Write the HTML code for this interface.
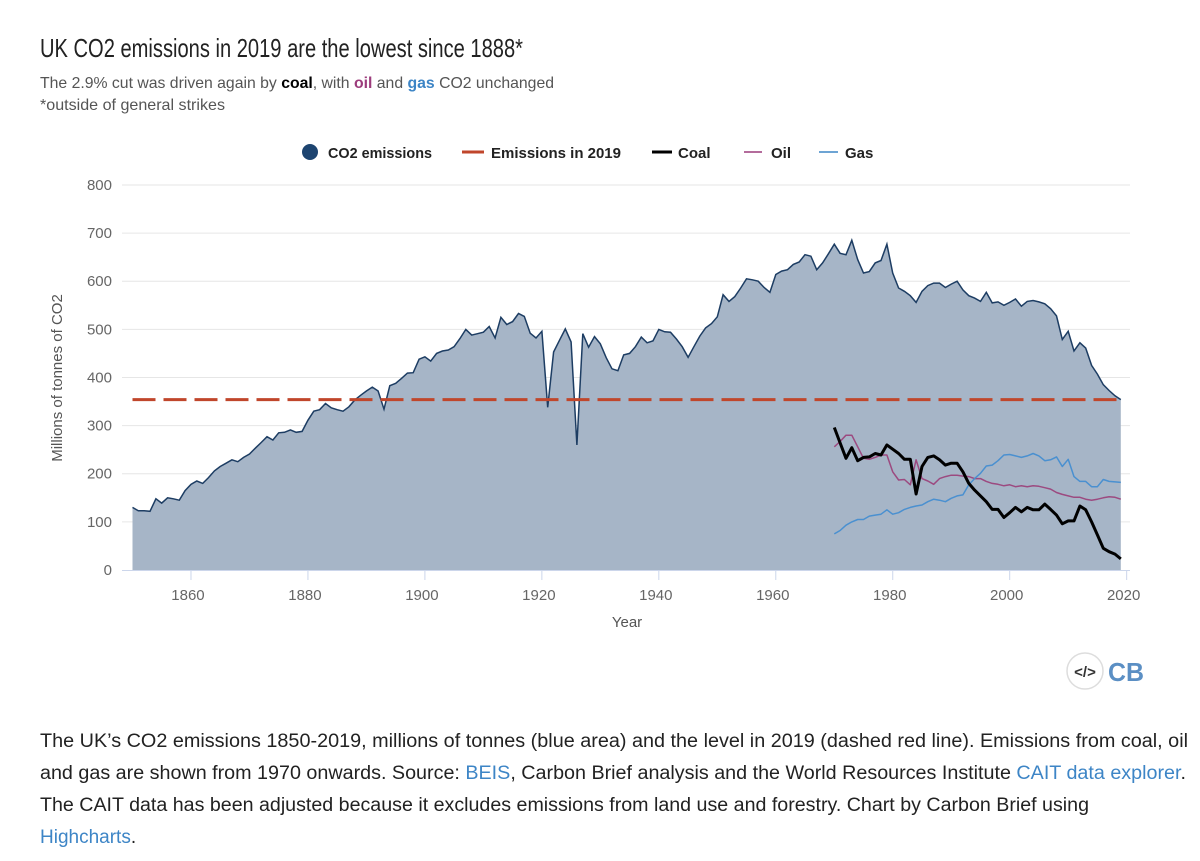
<!DOCTYPE html>
<html><head><meta charset="utf-8"><style>
html,body{margin:0;padding:0;background:#fff;}
svg{display:block;font-family:"Liberation Sans",sans-serif;}
</style></head><body>
<svg id="chart" width="1200" height="861" viewBox="0 0 1200 861" xmlns="http://www.w3.org/2000/svg">
<text x="40" y="57" font-size="26" fill="#222" textLength="483" lengthAdjust="spacingAndGlyphs">UK CO2 emissions in 2019 are the lowest since 1888*</text>
<text x="40" y="88" font-size="16" fill="#555" textLength="514" lengthAdjust="spacingAndGlyphs">The 2.9% cut was driven again by <tspan font-weight="bold" fill="#000">coal</tspan>, with <tspan font-weight="bold" fill="#9c3c7c">oil</tspan> and <tspan font-weight="bold" fill="#3d85c6">gas</tspan> CO2 unchanged</text>
<text x="40" y="110" font-size="16" fill="#555" textLength="185" lengthAdjust="spacingAndGlyphs">*outside of general strikes</text>

<g font-size="15" font-weight="bold" fill="#222">
 <g><circle cx="310" cy="152" r="8" fill="#1d4470"/><text x="328" y="158" textLength="104" lengthAdjust="spacingAndGlyphs">CO2 emissions</text></g>
 <g><line x1="462" y1="152" x2="484" y2="152" stroke="#c0462b" stroke-width="3"/><text x="491" y="158" textLength="130" lengthAdjust="spacingAndGlyphs">Emissions in 2019</text></g>
 <g><line x1="652" y1="152" x2="672" y2="152" stroke="#000" stroke-width="3"/><text x="678" y="158">Coal</text></g>
 <g><line x1="744" y1="152" x2="762" y2="152" stroke="#9c3c7c" stroke-width="1.5"/><text x="771" y="158">Oil</text></g>
 <g><line x1="819" y1="152" x2="838" y2="152" stroke="#3d85c6" stroke-width="1.5"/><text x="845" y="158">Gas</text></g>
</g>
<g id="grid"></g>
<g id="plot"></g>
<g id="axes"></g>
<text transform="translate(62,378) rotate(-90)" text-anchor="middle" font-size="15" fill="#555">Millions of tonnes of CO2</text>
<text x="627" y="627" text-anchor="middle" font-size="15" fill="#555">Year</text>

<g>
 <circle cx="1085" cy="671" r="18" fill="#fff" stroke="#ddd" stroke-width="1.5"/>
 <text x="1085" y="677" text-anchor="middle" font-size="15" font-weight="bold" fill="#333">&lt;/&gt;</text>
 <text x="1108" y="681" font-size="26" font-weight="bold" fill="#5b8fc4" textLength="36" lengthAdjust="spacingAndGlyphs">CB</text>
</g>

<g font-size="19" fill="#222">
 <text x="40" y="747" textLength="1148" lengthAdjust="spacingAndGlyphs">The UK’s CO2 emissions 1850-2019, millions of tonnes (blue area) and the level in 2019 (dashed red line). Emissions from coal, oil</text>
 <text x="40" y="779" textLength="1146" lengthAdjust="spacingAndGlyphs">and gas are shown from 1970 onwards. Source: <tspan fill="#3d85c6">BEIS</tspan>, Carbon Brief analysis and the World Resources Institute <tspan fill="#3d85c6">CAIT data explorer</tspan>.</text>
 <text x="40" y="811" textLength="1049" lengthAdjust="spacingAndGlyphs">The CAIT data has been adjusted because it excludes emissions from land use and forestry. Chart by Carbon Brief using</text>
 <text x="40" y="843"><tspan fill="#3d85c6">Highcharts</tspan>.</text>
</g>
</svg>
<script>
const startYear = 1850;
const co2 = [130,123,123,122,148,139,150,148,145,165,
178,185,180,192,206,215,222,229,225,234,
241,253,265,277,270,285,286,291,286,288,
311,330,333,346,337,333,330,339,353,363,
372,380,372,334,383,388,398,409,410,438,
443,434,450,455,457,464,481,500,488,491,
494,506,482,525,510,516,533,527,492,482,
496,338,453,477,501,474,260,491,463,485,
470,441,418,414,447,450,464,484,472,476,
500,495,494,480,464,442,464,486,503,512,
526,572,558,568,586,605,603,600,587,577,
614,621,624,635,640,655,652,624,638,657,
677,658,655,685,645,617,620,638,643,677,
617,586,579,570,556,579,591,596,596,587,
594,600,582,570,565,558,577,555,557,550,
556,563,548,558,560,557,553,543,528,479,
496,455,472,461,425,407,385,373,362,354];
const fuelStart = 1970;
const coal = [296,264,232,254,227,234,235,242,239,260,251,242,230,230,158,215,234,237,229,218,222,222,204,180,166,154,142,126,126,109,119,130,121,130,125,125,137,126,114,96,102,102,133,125,100,73,45,38,33,23];
const oil = [256,267,280,280,256,232,230,234,239,239,204,187,188,177,229,190,185,178,190,194,197,197,195,194,190,190,184,180,178,175,177,173,175,173,175,174,171,168,161,157,154,151,151,147,145,147,150,152,151,147];
const gas = [75,82,93,100,105,105,112,114,116,125,116,119,126,130,133,135,142,147,145,142,149,154,156,177,190,201,216,218,227,239,240,237,234,237,242,237,227,229,235,215,230,194,184,184,173,173,188,184,183,182];
const level2019 = [354];
const yTicks = [0,100,200,300,400,500,600,700,800];
const xTicks = [1860,1880,1900,1920,1940,1960,1980,2000,2020];

const NS = "http://www.w3.org/2000/svg";
const X = yr => 132.5 + (yr - 1850) * 5.848;
const Y = v => 570 - v * 0.4813;
function mk(tag, attrs, parent){const e=document.createElementNS(NS,tag);for(const k in attrs)e.setAttribute(k,attrs[k]);parent.appendChild(e);return e;}
const grid=document.getElementById('grid'), plot=document.getElementById('plot'), axes=document.getElementById('axes');

yTicks.forEach(v=>{
  if(v>0){const l=mk('line',{x1:122,x2:1130,y1:Y(v),y2:Y(v),stroke:'#e6e6e6','stroke-width':1},grid);
  
  }
  const t=mk('text',{x:112,y:Y(v)+5,'text-anchor':'end','font-size':15,fill:'#666'},axes);
  t.textContent=v;
  
  
});
const ax=mk('line',{x1:122,x2:1130,y1:570.5,y2:570.5,stroke:'#ccd6eb','stroke-width':1},axes);


xTicks.forEach(yr=>{
  const tk=mk('line',{x1:X(yr),x2:X(yr),y1:570,y2:580,stroke:'#ccd6eb'},axes);
  
  
  const t=mk('text',{x:X(yr)-3,y:600,'text-anchor':'middle','font-size':15,fill:'#666'},axes);
  t.textContent=yr;
  
  
});

const pts = co2.map((v,i)=>[X(startYear+i),Y(v)]);
const lastX = X(startYear+co2.length-1);
let d='M'+X(startYear)+','+Y(0)+' '+pts.map(p=>'L'+p[0].toFixed(1)+','+p[1].toFixed(1)).join(' ')+' L'+lastX+','+Y(0)+'Z';
const area=mk('path',{d:d,fill:'#a6b5c7',stroke:'none'},plot);


const aline=mk('path',{d:'M'+pts.map(p=>p[0].toFixed(1)+','+p[1].toFixed(1)).join(' L'),fill:'none',stroke:'#1d3d63','stroke-width':1.5},plot);



const dl=mk('line',{x1:X(startYear),x2:lastX,y1:Y(level2019[0]),y2:Y(level2019[0]),stroke:'#c0462b','stroke-width':3,'stroke-dasharray':'23 8'},plot);



function series(arr,color,w){
  const p=arr.map((v,i)=>X(fuelStart+i).toFixed(1)+','+Y(v).toFixed(1)).join(' L');
  return mk('path',{d:'M'+p,fill:'none',stroke:color,'stroke-width':w,'stroke-linejoin':'round'},plot);
}
const og=series(oil,'#9c4a80',1.5);


const gg=series(gas,'#4a90d0',1.5);


const cg=series(coal,'#000',3);


</script>
</body></html>
